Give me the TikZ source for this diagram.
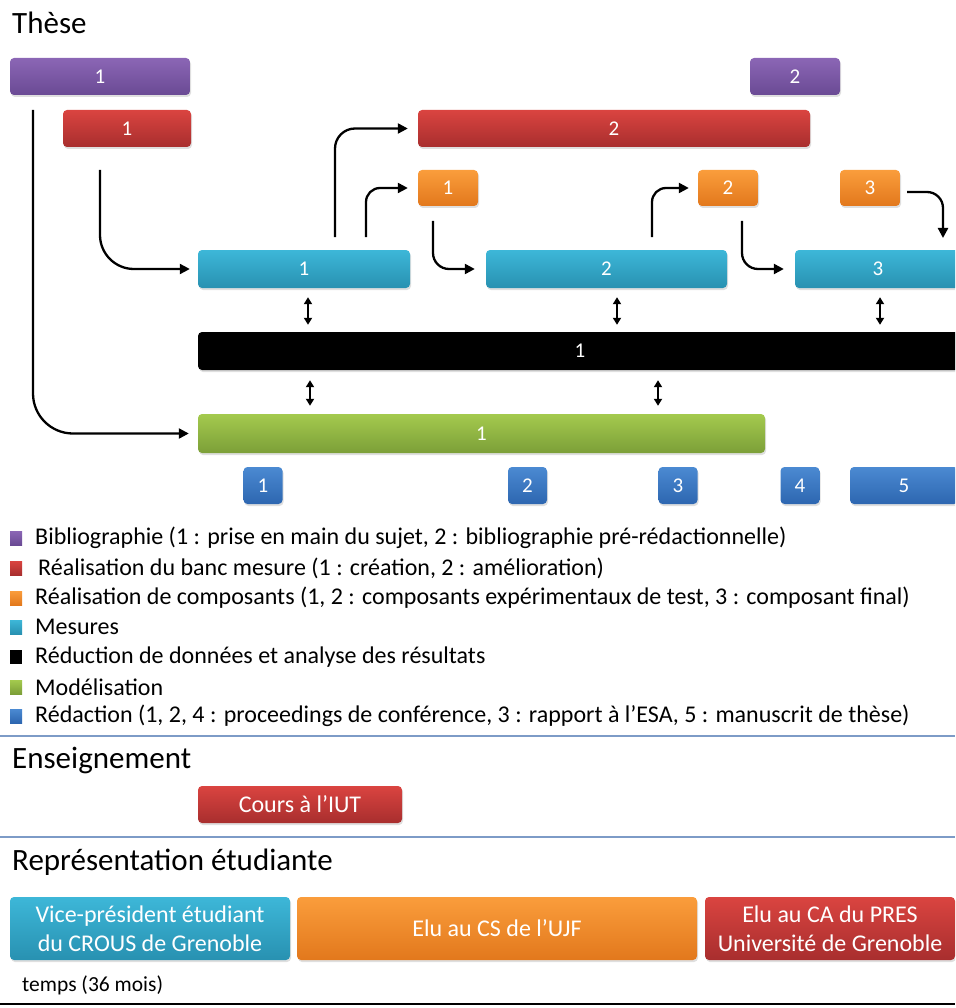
\documentclass[tikz,border=0pt]{standalone}
\usepackage{fontspec}
\setmainfont{Carlito}
\usetikzlibrary{arrows.meta,shadows}
\definecolor{purT}{HTML}{8B66B5}\definecolor{purB}{HTML}{6A4A94}
\definecolor{redT}{HTML}{DA4440}\definecolor{redB}{HTML}{A82E2E}
\definecolor{oraT}{HTML}{FA9D3C}\definecolor{oraB}{HTML}{E2781C}
\definecolor{cyaT}{HTML}{3DB7D8}\definecolor{cyaB}{HTML}{2891B1}
\definecolor{greT}{HTML}{A4CA4E}\definecolor{greB}{HTML}{7C9F38}
\definecolor{bluT}{HTML}{4B8AD2}\definecolor{bluB}{HTML}{2D66B0}
\definecolor{sepline}{HTML}{7D9BC7}
\tikzset{
  bar/.style={rounded corners=4pt, inner sep=0pt, text=white, anchor=center,
    font=\fontsize{21}{21}\selectfont,
    drop shadow={opacity=0.25, shadow xshift=1pt, shadow yshift=-2pt}},
  purbar/.style={bar, top color=purT, bottom color=purB},
  redbar/.style={bar, top color=redT, bottom color=redB},
  orabar/.style={bar, top color=oraT, bottom color=oraB},
  cyabar/.style={bar, top color=cyaT, bottom color=cyaB},
  grebar/.style={bar, top color=greT, bottom color=greB},
  blubar/.style={bar, top color=bluT, bottom color=bluB},
  blkbar/.style={bar, fill=black},
  bigtext/.style={align=center, font=\fontsize{24}{29}\selectfont},
  conn/.style={-{Triangle[length=10pt,width=10pt]}, line width=2.3pt},
  dbl/.style={{Triangle[length=7pt,width=8pt]}-{Triangle[length=7pt,width=8pt]}, line width=2pt},
  sectitle/.style={anchor=west, inner sep=0pt, font=\fontsize{31}{31}\selectfont},
  legsq/.style={inner sep=0pt, minimum width=12pt, minimum height=14pt, anchor=west},
  legtxt/.style={anchor=west, inner sep=0pt, font=\fontsize{24}{24}\selectfont},
  sep/.style={line width=2.8pt, draw=sepline},
}
\begin{document}
\begin{tikzpicture}[x=1pt,y=-1pt]
\useasboundingbox (0,0) rectangle (955,1008);
\clip (0,0) rectangle (955,1008);

% Section title
\node[sectitle] (these) at (12,23) {Thèse};

% Bibliographie
\node[purbar, minimum width=180pt, minimum height=37pt] (p1) at (100,76.5) {1};
\node[purbar, minimum width=90pt, minimum height=37pt] (p2) at (795,76.5) {2};
% Banc de mesure
\node[redbar, minimum width=128pt, minimum height=37pt] (r1) at (127,128.5) {1};
\node[redbar, minimum width=392pt, minimum height=37pt] (r2) at (614,128.5) {2};
% Composants
\node[orabar, minimum width=60pt, minimum height=36pt] (o1) at (448,188) {1};
\node[orabar, minimum width=60pt, minimum height=36pt] (o2) at (728,188) {2};
\node[orabar, minimum width=60pt, minimum height=36pt] (o3) at (870,188) {3};
% Mesures
\node[cyabar, minimum width=212pt, minimum height=38pt] (c1) at (304,269) {1};
\node[cyabar, minimum width=241pt, minimum height=38pt] (c2) at (606.5,269) {2};
\node[cyabar, minimum width=166pt, minimum height=38pt] (c3) at (878,269) {3};
% Reduction
\node[blkbar, minimum width=764pt, minimum height=38pt] (bk) at (580,351) {1};
% Modelisation
\node[grebar, minimum width=567pt, minimum height=39pt] (g1) at (481.5,433.5) {1};
% Redaction
\node[blubar, minimum width=39pt, minimum height=37pt] (b1) at (263,485.5) {1};
\node[blubar, minimum width=39pt, minimum height=37pt] (b2) at (527.5,485.5) {2};
\node[blubar, minimum width=39pt, minimum height=37pt] (b3) at (678,485.5) {3};
\node[blubar, minimum width=39pt, minimum height=37pt] (b4) at (800,485.5) {4};
\node[blubar, minimum width=108pt, minimum height=37pt] (b5) at (904,485.5) {5};

% Connectors
\coordinate (s1) at (33,110);
\coordinate (s2) at (100,170);
\coordinate (s3) at (335,237);
\coordinate (s4) at (366,237);
\coordinate (s5) at (433,221);
\coordinate (s6) at (652,237);
\coordinate (s7) at (742,221);
\coordinate (s8) at (907,192);
\coordinate (e8) at (943,238);
\draw[conn, rounded corners=40pt, shorten >=9pt] (s1) |- (g1.west);
\draw[conn, rounded corners=34pt, shorten >=8pt] (s2) |- (c1.west);
\draw[conn, rounded corners=20pt, shorten >=10pt] (s3) |- (r2.west);
\draw[conn, rounded corners=14pt, shorten >=10pt] (s4) |- (o1.west);
\draw[conn, rounded corners=16pt, shorten >=11pt] (s5) |- (c2.west);
\draw[conn, rounded corners=14pt, shorten >=9pt] (s6) |- (o2.west);
\draw[conn, rounded corners=16pt, shorten >=11pt] (s7) |- (c3.west);
\draw[conn, rounded corners=16pt] (s8) -| (e8);

% Double arrows
\draw[dbl, shorten <=9pt, shorten >=7pt] (c1.south -| 308,0) -- (bk.north -| 308,0);
\draw[dbl, shorten <=9pt, shorten >=7pt] (c2.south -| 617,0) -- (bk.north -| 617,0);
\draw[dbl, shorten <=9pt, shorten >=7pt] (c3.south -| 880,0) -- (bk.north -| 880,0);
\draw[dbl, shorten <=10pt, shorten >=8pt] (bk.south -| 310,0) -- (g1.north -| 310,0);
\draw[dbl, shorten <=10pt, shorten >=8pt] (bk.south -| 658,0) -- (g1.north -| 658,0);

% Legend
\node[legsq, top color=purT, bottom color=purB] (lq1) at (10,538) {};
\node[legtxt] (lt1) at (35,538) {Bibliographie (1 : prise en main du sujet, 2 : bibliographie pré-rédactionnelle)};
\node[legsq, top color=redT, bottom color=redB] (lq2) at (10,568) {};
\node[legtxt] (lt2) at (38,568) {Réalisation du banc mesure (1 : création, 2 : amélioration)};
\node[legsq, top color=oraT, bottom color=oraB] (lq3) at (10,598) {};
\node[legtxt] (lt3) at (35,598) {Réalisation de composants (1, 2 : composants expérimentaux de test, 3 : composant final)};
\node[legsq, top color=cyaT, bottom color=cyaB] (lq4) at (10,627) {};
\node[legtxt] (lt4) at (35,627) {Mesures};
\node[legsq, fill=black] (lq5) at (10,657) {};
\node[legtxt] (lt5) at (35,657) {Réduction de données et analyse des résultats};
\node[legsq, top color=greT, bottom color=greB] (lq6) at (10,687) {};
\node[legtxt] (lt6) at (35,687) {Modélisation};
\node[legsq, top color=bluT, bottom color=bluB] (lq7) at (10,716) {};
\node[legtxt] (lt7) at (35,716) {Rédaction (1, 2, 4 : proceedings de conférence, 3 : rapport à l’ESA, 5 : manuscrit de thèse)};

\draw[sep] (0,736) -- (955,736);

% Enseignement
\node[sectitle] (ens) at (12,760) {Enseignement};
\node[redbar, bigtext, minimum width=204pt, minimum height=37pt] (iut) at (300,804.5) {Cours à l’IUT};

\draw[sep] (0,837) -- (955,837);

% Representation
\node[sectitle] (rep) at (12,862) {Représentation étudiante};
\node[cyabar, bigtext, minimum width=280pt, minimum height=63pt] (v1) at (150,928.5) {Vice-président étudiant\\du CROUS de Grenoble};
\node[orabar, bigtext, minimum width=400pt, minimum height=63pt] (v2) at (497,928.5) {Elu au CS de l’UJF};
\node[redbar, bigtext, minimum width=250pt, minimum height=63pt] (v3) at (830,928.5) {Elu au CA du PRES\\Université de Grenoble};

\node[anchor=west, inner sep=0pt, font=\fontsize{21.5}{21.5}\selectfont] (temps) at (22,985) {temps (36 mois)};
\draw[line width=2pt] (0,1004) -- (955,1004);
\end{tikzpicture}
\end{document}
